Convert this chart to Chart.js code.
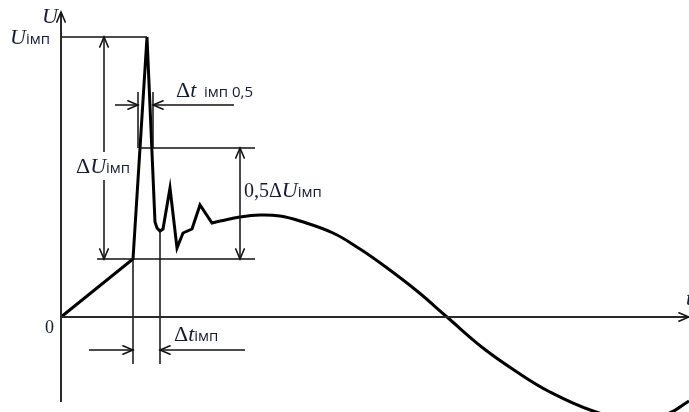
<!DOCTYPE html>
<html><head><meta charset="utf-8">
<script src="https://cdn.jsdelivr.net/npm/chart.js@4/dist/chart.umd.min.js"></script>
<style>html,body{margin:0;padding:0;background:#fff;overflow:hidden}canvas{display:block}</style>
</head><body>
<canvas id="c" width="689" height="412"></canvas>
<script>
// ---- data (time t, voltage U in arbitrary units) ----
const pulseT = [0, 72, 86, 94, 96, 99, 102, 109, 116, 122, 131, 139, 151, 159];
const pulseU = [0, 58, 280, 95, 89, 86, 88, 129, 69, 84, 88, 112, 94, 96];
const waveT  = [159, 179, 199, 219, 239, 272, 299, 322, 356, 386, 422, 456, 489, 532, 569, 606, 628];
const waveU  = [96, 100, 102, 101, 96, 84, 68, 52, 26, 0, -31, -55, -75, -94, -102, -97, -84];
const U_IMP = 280, U_BASE = 58, U_HALF = 169;
const T_START = 72, T_PEAK = 86, T_HALF_L = 77, T_HALF_R = 92, T_SETTLE = 99;
const T_MAX = 628, U_AXIS_TOP = 305, U_AXIS_BOTTOM = -85;
// annotation anchors
const dimU_T = 43, dimHalf_T = 179, dimTop_U = 225, dimDt05_U = 212, dimDt_U = -33, dimBottom_U = -47;
const baseLineT = [36, 194], halfLineT = [79, 194];
const dt05Outer = [54, 173], dtOuter = [28, 184];

const AX = '#2a2a2a', INK = '#111', TXT = '#141a30';
function seg(xs, ys, color, width, tension) {
  return { data: xs.map((v, i) => ({x: v, y: ys[i]})), showLine: true, borderColor: color,
           borderWidth: width, pointRadius: 0, tension: tension || 0, fill: false };
}
const datasets = [
  seg([0, 0], [U_AXIS_TOP, U_AXIS_BOTTOM], AX, 2),
  seg([0, T_MAX], [0, 0], AX, 2),
  seg([0, T_PEAK], [U_IMP, U_IMP], INK, 1.5),
  seg(baseLineT, [U_BASE, U_BASE], INK, 1.5),
  seg(halfLineT, [U_HALF, U_HALF], INK, 1.5),
  seg([T_HALF_L, T_HALF_L], [dimTop_U, U_HALF], INK, 1.5),
  seg([T_HALF_R, T_HALF_R], [dimTop_U, U_HALF], INK, 1.5),
  seg([T_START, T_START], [U_BASE, dimBottom_U], INK, 1.5),
  seg([T_SETTLE, T_SETTLE], [86, dimBottom_U], INK, 1.5),
  seg([dimU_T, dimU_T], [U_IMP, U_BASE], INK, 1.5),
  seg([dimHalf_T, dimHalf_T], [U_HALF, U_BASE], INK, 1.5),
  seg([dt05Outer[0], T_HALF_L], [dimDt05_U, dimDt05_U], INK, 1.5),
  seg([dt05Outer[1], T_HALF_R], [dimDt05_U, dimDt05_U], INK, 1.5),
  seg([dtOuter[0], T_START], [dimDt_U, dimDt_U], INK, 1.5),
  seg([dtOuter[1], T_SETTLE], [dimDt_U, dimDt_U], INK, 1.5),
  seg(pulseT, pulseU, '#000', 3, 0),
  seg(waveT, waveU, '#000', 3, 0.4)
];

// arrow heads: [t, u, dirX, dirY] (direction in screen space)
const heads = [
  [dimU_T, U_IMP, 0, -1], [dimU_T, U_BASE, 0, 1],
  [dimHalf_T, U_HALF, 0, -1], [dimHalf_T, U_BASE, 0, 1],
  [T_HALF_L, dimDt05_U, 1, 0], [T_HALF_R, dimDt05_U, -1, 0],
  [T_START, dimDt_U, 1, 0], [T_SETTLE, dimDt_U, -1, 0],
  [0, U_AXIS_TOP, 0, -1], [T_MAX, 0, 1, 0]
];
const SERIF = '"Liberation Serif","DejaVu Serif",serif', SANS = '"Open Sans","Noto Sans",sans-serif';
const F = {
  d: '22px ' + SERIF, i: 'italic 22px ' + SERIF, s: '15px ' + SANS, n: '20px ' + SERIF, z: '18px ' + SERIF
};
// labels: [t, u, runs, clearBackground]
const labels = [
  [-19, 294, [['U', F.i]]],
  [-51, 273, [['U', F.i], ['імп', F.s]]],
  [115, 220, [['Δ', F.d], ['t', F.i], ['  імп 0,5', F.s]]],
  [15, 144, [['Δ', F.d], ['U', F.i], ['імп', F.s]], true],
  [183, 120, [['0,5', F.n], ['Δ', F.n], ['U', F.i], ['імп', F.s]]],
  [113, -24, [['Δ', F.d], ['t', F.i], ['імп', F.s]]],
  [-16, -16, [['0', F.z]]],
  [625, 12, [['t', F.i]]]
];

const overlay = {
  id: 'overlay',
  afterDatasetsDraw(chart) {
    const {ctx, scales: {x, y}} = chart;
    ctx.save();
    ctx.strokeStyle = INK; ctx.lineWidth = 1.5; ctx.lineCap = 'round';
    const L = 11, A = 0.4;
    heads.forEach(([t, u, dx, dy]) => {
      const px = x.getPixelForValue(t), py = y.getPixelForValue(u);
      const ang = Math.atan2(dy, dx);
      ctx.beginPath();
      ctx.moveTo(px - L * Math.cos(ang - A), py - L * Math.sin(ang - A));
      ctx.lineTo(px, py);
      ctx.lineTo(px - L * Math.cos(ang + A), py - L * Math.sin(ang + A));
      ctx.stroke();
    });
    ctx.textBaseline = 'alphabetic';
    labels.forEach(([t, u, runs, clear]) => {
      let px = x.getPixelForValue(t); const py = y.getPixelForValue(u);
      let w = 0;
      runs.forEach(([s, f]) => { ctx.font = f; w += ctx.measureText(s).width; });
      if (clear) { ctx.fillStyle = '#fff'; ctx.fillRect(px - 1, py - 21, w + 2, 28); }
      ctx.fillStyle = TXT;
      runs.forEach(([s, f]) => { ctx.font = f; ctx.fillText(s, px, py); px += ctx.measureText(s).width; });
    });
    ctx.restore();
  }
};

new Chart(document.getElementById('c'), {
  type: 'scatter',
  data: { datasets },
  options: {
    responsive: false, animation: false, devicePixelRatio: 1,
    layout: { padding: 0 },
    plugins: { legend: { display: false }, tooltip: { enabled: false } },
    scales: {
      x: { type: 'linear', display: false, min: -61, max: 628 },
      y: { type: 'linear', display: false, min: -95, max: 317 }
    }
  },
  plugins: [overlay]
});
</script>
</body></html>
